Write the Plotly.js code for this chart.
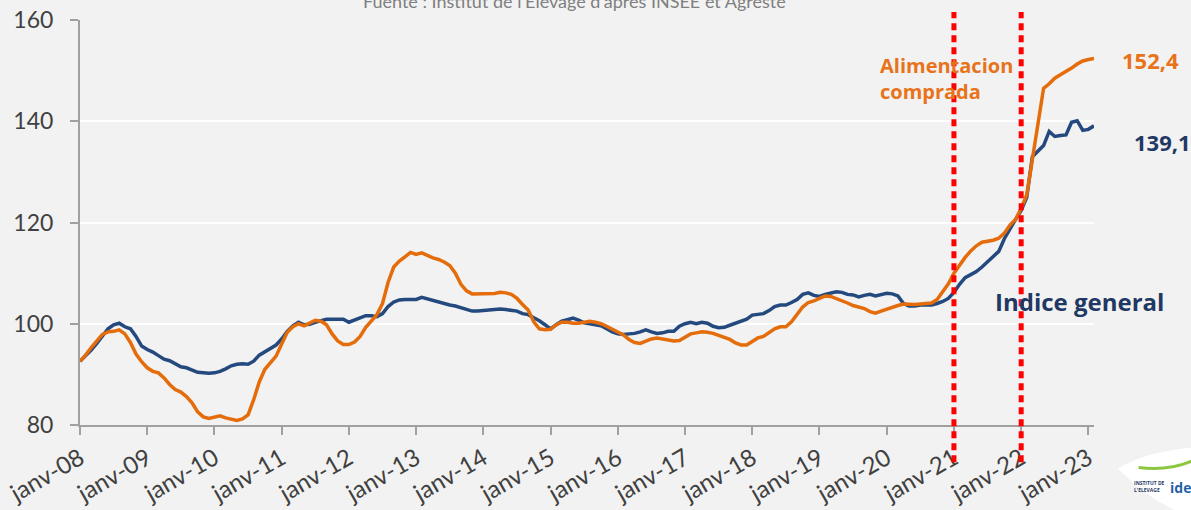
<!DOCTYPE html>
<html>
<head>
<meta charset="utf-8">
<script src="https://cdn.plot.ly/plotly-3.0.1.min.js"></script>
<style>
html,body{margin:0;padding:0;background:#f2f2f2;}
#chart{width:1191px;height:510px;}
</style>
</head>
<body>
<div id="chart"></div>
<script>
// Monthly series, janv-08 .. févr-23
const indiceGeneral = [
92.6,93.6,94.8,96.1,97.6,99.0,99.8,100.1,99.4,99.0,97.5,95.6,
94.9,94.4,93.7,93.0,92.7,92.1,91.5,91.3,90.8,90.4,90.3,90.2,
90.3,90.6,91.1,91.7,92.0,92.1,92.0,92.6,93.8,94.5,95.2,95.8,
97.0,98.5,99.6,100.3,99.8,99.9,100.3,100.6,100.9,100.9,100.9,100.9,
100.3,100.7,101.2,101.6,101.6,101.4,102.0,103.4,104.3,104.7,104.8,104.8,
104.8,105.2,104.9,104.5,104.2,103.9,103.7,103.5,103.2,102.8,102.5,102.5,
102.6,102.8,102.9,102.9,102.8,102.7,102.5,102.0,101.8,101.2,100.6,99.8,
99.0,99.8,100.5,100.8,101.1,100.7,100.2,100.0,99.8,99.6,99.0,98.4,
98.0,97.9,98.0,98.1,98.4,98.8,98.4,98.1,98.2,98.5,98.5,99.5,
100.0,100.3,100.0,100.3,100.1,99.5,99.2,99.3,99.7,100.1,100.5,100.9,
101.7,101.8,102.0,102.6,103.4,103.7,103.7,104.2,104.8,105.8,106.1,105.6,
105.4,105.8,106.0,106.3,106.2,105.8,105.7,105.3,105.6,105.8,105.5,105.8,
106.0,105.9,105.5,104.0,103.5,103.5,103.7,103.7,103.7,104.0,104.4,105.0,
106.2,107.8,109.1,109.7,110.3,111.2,112.3,113.3,114.3,116.8,118.8,120.6,
122.4,125.0,133.0,134.0,135.2,138.0,137.0,137.2,137.3,139.8,140.1,138.2,
138.4,139.1
];
const alimentacionComprada = [
92.6,93.8,95.3,96.7,97.9,98.4,98.5,98.8,98.0,96.3,94.0,92.5,
91.3,90.6,90.3,89.3,88.0,87.0,86.5,85.6,84.4,82.6,81.6,81.3,
81.5,81.8,81.4,81.1,80.9,81.2,82.0,85.0,88.5,91.0,92.4,93.6,
96.0,98.3,99.4,100.0,99.6,100.1,100.7,100.5,99.8,98.0,96.6,95.9,
95.9,96.4,97.5,99.3,100.6,101.8,104.0,108.2,111.2,112.4,113.2,114.1,
113.7,114.0,113.5,113.0,112.7,112.2,111.5,110.0,107.8,106.5,105.9,105.9,
106.0,105.9,106.0,106.2,106.1,105.8,105.0,103.8,102.7,100.4,99.0,98.8,
98.9,99.8,100.3,100.3,100.1,100.1,100.3,100.5,100.3,100.0,99.5,98.9,
98.4,97.8,96.9,96.3,96.1,96.5,97.0,97.2,97.0,96.7,96.6,96.7,
97.4,98.0,98.2,98.4,98.3,98.1,97.7,97.3,96.9,96.2,95.8,95.8,
96.6,97.2,97.5,98.2,99.0,99.4,99.4,100.4,102.0,103.3,104.2,104.5,
105.0,105.5,105.4,105.0,104.5,104.1,103.6,103.3,103.0,102.4,102.1,102.5,
102.9,103.2,103.6,103.9,103.8,103.8,103.9,104.0,104.1,104.8,106.3,107.9,
110.0,111.6,113.1,114.4,115.4,116.1,116.3,116.5,116.9,117.9,119.5,120.6,
122.8,125.5,132.5,140.0,146.5,147.4,148.5,149.2,149.8,150.5,151.3,151.9,
152.2,152.4
];
const tickLabels = ["janv-08","janv-09","janv-10","janv-11","janv-12","janv-13","janv-14","janv-15","janv-16","janv-17","janv-18","janv-19","janv-20","janv-21","janv-22","janv-23"];
const markerMonths = [156, 168]; // janv-21, janv-22

const monthIndex = indiceGeneral.map((_, i) => i);
const tickVals = tickLabels.map((_, k) => k * 12);

const navy = "#24497E", orange = "#E46C0A";
const fam = "Lato, 'DejaVu Sans', sans-serif";
const labelFont = "'Open Sans', 'DejaVu Sans', sans-serif";

const traces = [
  {x: monthIndex, y: indiceGeneral, type: "scatter", mode: "lines",
   line: {color: navy, width: 3.5}, name: "Indice general"},
  {x: monthIndex, y: alimentacionComprada, type: "scatter", mode: "lines",
   line: {color: orange, width: 3.5}, name: "Alimentacion comprada"}
];

const shapes = markerMonths.map(m => ({
  type: "line", xref: "x", yref: "paper", x0: m, x1: m, y0: -0.092, y1: 1.02,
  line: {color: "#FF0000", width: 5, dash: "7px,5px"}, layer: "above"
}));
// logo blob
shapes.push({type: "path", xref: "paper", yref: "paper",
  path: "M 1.0237,-0.108 Q 1.05,-0.065 1.1,-0.055 L 1.1,-0.23 Q 1.06,-0.2 1.0237,-0.108 Z",
  fillcolor: "#ffffff", line: {width: 0}, layer: "above"});
shapes.push({type: "path", xref: "paper", yref: "paper",
  path: "M 1.044,-0.105 Q 1.075,-0.115 1.1,-0.085",
  line: {color: "#8DC63F", width: 3}, layer: "above"});

const annotations = [
  {text: "Fuente : Institut de l'Elevage d'après INSEE et Agreste", xref: "paper", yref: "paper",
   x: 0.488, y: 1.048, xanchor: "center", yanchor: "middle", showarrow: false,
   font: {family: fam, size: 18, color: "#7f7f7f"}},
  {text: "<b>Alimentacion<br>comprada</b>", xref: "paper", yref: "paper", x: 0.787, y: 0.925,
   xanchor: "left", yanchor: "top", align: "left", showarrow: false,
   font: {family: labelFont, size: 20, color: "#E8731A"}},
  {text: "<b>152,4</b>", xref: "paper", yref: "paper", x: 1.026, y: 0.902,
   xanchor: "left", yanchor: "middle", showarrow: false,
   font: {family: labelFont, size: 22, color: "#E8731A"}},
  {text: "<b>139,1</b>", xref: "paper", yref: "paper", x: 1.037, y: 0.70,
   xanchor: "left", yanchor: "middle", showarrow: false,
   font: {family: labelFont, size: 22, color: "#1F3864"}},
  {text: "<b>Indice general</b>", xref: "paper", yref: "paper", x: 0.9, y: 0.305,
   xanchor: "left", yanchor: "middle", showarrow: false,
   font: {family: labelFont, size: 24, color: "#1F3864"}},
  {text: "<b>INSTITUT DE<br>L'ELEVAGE</b>", xref: "paper", yref: "paper", x: 1.037, y: -0.13,
   xanchor: "left", yanchor: "top", align: "left", showarrow: false,
   font: {family: labelFont, size: 5, color: "#1F3864"}},
  {text: "<b>idele</b>", xref: "paper", yref: "paper", x: 1.073, y: -0.125,
   xanchor: "left", yanchor: "top", showarrow: false,
   font: {family: labelFont, size: 14, color: "#1F5FA8"}}
];

const layout = {
  width: 1191, height: 510,
  margin: {l: 80, r: 97, t: 20, b: 85},
  paper_bgcolor: "#f2f2f2", plot_bgcolor: "#f2f2f2",
  showlegend: false,
  xaxis: {range: [0, 181], tickvals: tickVals, ticktext: tickLabels, tickangle: -30,
    ticks: "outside", ticklen: 8, tickwidth: 2, tickcolor: "#a0a0a0",
    showline: true, linecolor: "#a0a0a0", linewidth: 2, showgrid: false, zeroline: false,
    tickfont: {family: fam, size: 24, color: "#404040"}, fixedrange: true},
  yaxis: {range: [80, 160], dtick: 20, tick0: 80, ticks: "outside", ticklen: 8, tickwidth: 2,
    tickcolor: "#a0a0a0", showline: true, linecolor: "#a0a0a0", linewidth: 2,
    showgrid: true, gridcolor: "#ffffff", gridwidth: 2, zeroline: false,
    tickfont: {family: fam, size: 23, color: "#404040"}, ticklabelstandoff: 12, fixedrange: true},
  shapes: shapes,
  annotations: annotations
};

Plotly.newPlot("chart", traces, layout, {displayModeBar: false, staticPlot: true});
</script>
</body>
</html>
